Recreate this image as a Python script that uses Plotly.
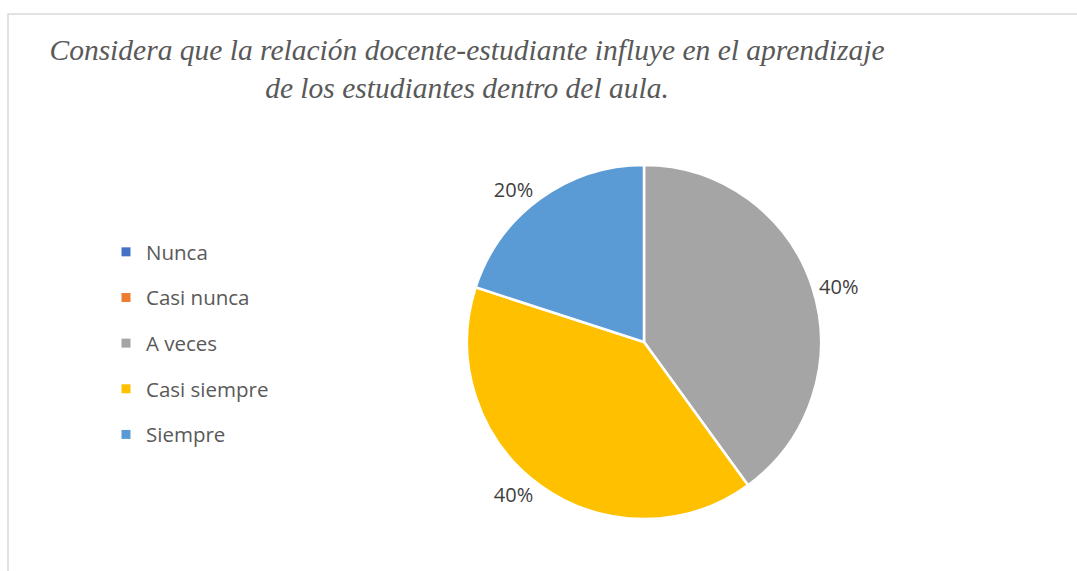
import plotly.graph_objects as go

categories = ["Nunca", "Casi nunca", "A veces", "Casi siempre", "Siempre"]
values = [0, 0, 40, 40, 20]
colors = ["#4472C4", "#ED7D31", "#A5A5A5", "#FFC000", "#5B9BD5"]
title_lines = ["Considera que la relación docente-estudiante influye en el aprendizaje",
               "de los estudiantes dentro del aula."]

W, H = 1077, 571
cx, cy, r = 644, 342, 177

total = sum(values)
texts = [f"{round(v / total * 100)}%" if v > 0 else "" for v in values]

fig = go.Figure()
fig.add_trace(go.Pie(
    labels=categories, values=values, sort=False, direction="clockwise", rotation=0,
    marker=dict(colors=colors, line=dict(color="white", width=2.5)),
    text=texts, textinfo="text", textposition="outside",
    outsidetextfont=dict(family="Open Sans", size=20, color="#404040"),
    showlegend=False, hoverinfo="label+percent",
    domain=dict(x=[(cx - r) / W, (cx + r) / W], y=[1 - (cy + r) / H, 1 - (cy - r) / H]),
))

for cat, col in zip(categories, colors):
    fig.add_trace(go.Scatter(
        x=[None], y=[None], mode="markers", name=cat, legendgroup=cat,
        marker=dict(symbol="square", size=9, color=col), showlegend=True,
    ))

fig.update_layout(
    width=W, height=H, autosize=False,
    margin=dict(l=0, r=0, t=0, b=0),
    paper_bgcolor="white", plot_bgcolor="white",
    xaxis=dict(visible=False), yaxis=dict(visible=False),
    title=dict(text="<br>".join(title_lines), x=467 / W, xanchor="center",
               y=1 - 60 / H, yanchor="top",
               font=dict(family="Liberation Serif", size=29.5, color="#595959", style="italic")),
    legend=dict(x=106 / W, xanchor="left", y=1 - 232 / H, yanchor="top",
                font=dict(family="Open Sans", size=20.5, color="#595959"),
                tracegroupgap=16, bgcolor="rgba(0,0,0,0)", itemclick=False),
    shapes=[dict(type="rect", xref="paper", yref="paper",
                 x0=8 / W, x1=1.02, y0=-0.02, y1=1 - 14 / H,
                 line=dict(color="#D9D9D9", width=1.5), fillcolor="rgba(0,0,0,0)")],
)

fig.write_html(
    "out.html",
    config={"displayModeBar": False},
    post_script="document.body.style.margin='0';document.body.style.overflow='hidden';",
)
